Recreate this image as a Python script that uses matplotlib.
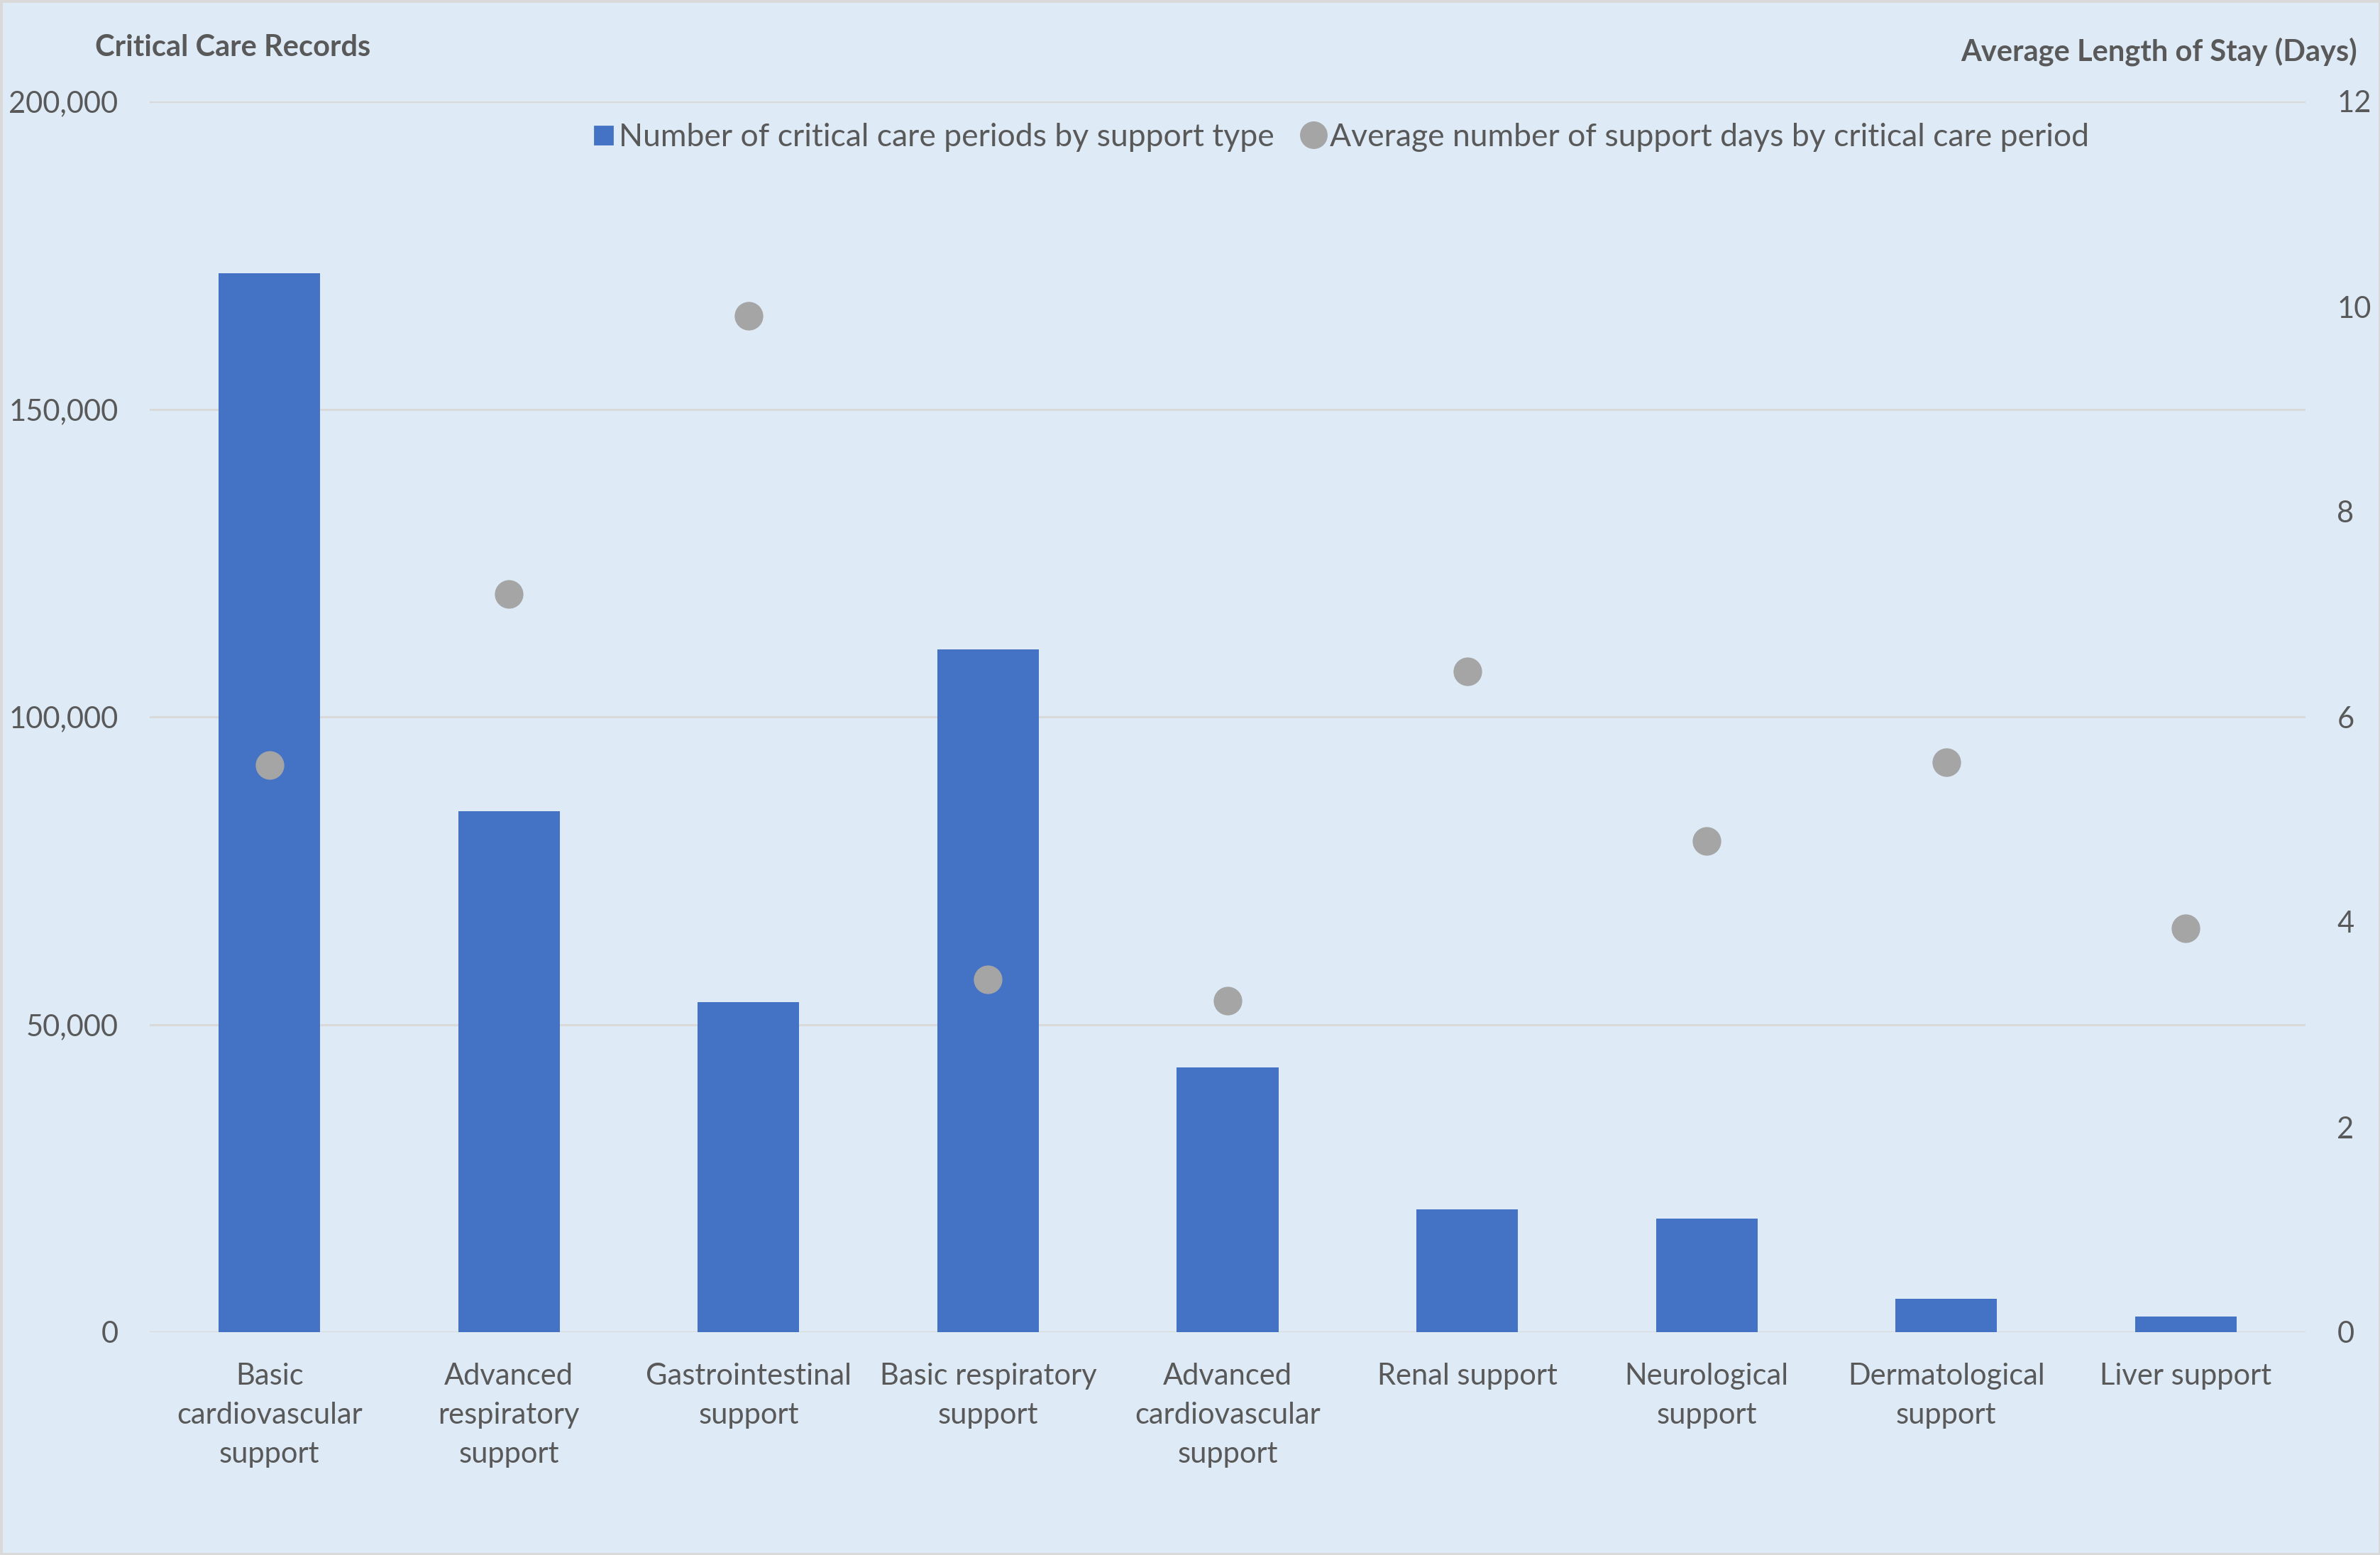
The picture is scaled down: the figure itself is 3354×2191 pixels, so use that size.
import matplotlib
matplotlib.use("Agg")
import matplotlib.pyplot as plt
from matplotlib.lines import Line2D
from matplotlib.patches import Rectangle
from matplotlib.ticker import FuncFormatter, MultipleLocator

# colours
BG = "#DEEBF7"
BAR_COL = "#4472C4"
DOT_COL = "#A5A5A5"
TEXT_COL = "#595959"
GRID_COL = "#D9D9D9"

# data
categories = [
    "Basic\ncardiovascular\nsupport",
    "Advanced\nrespiratory\nsupport",
    "Gastrointestinal\nsupport",
    "Basic respiratory\nsupport",
    "Advanced\ncardiovascular\nsupport",
    "Renal support",
    "Neurological\nsupport",
    "Dermatological\nsupport",
    "Liver support",
]
care_periods = [172100, 84700, 53600, 110900, 43000, 20000, 18500, 5400, 2500]
avg_support_days = [5.53, 7.20, 9.91, 3.44, 3.23, 6.44, 4.79, 5.56, 3.94]

bar_label = "Number of critical care periods by support type"
dot_label = "Average number of support days by critical care period"

plt.rcParams["font.family"] = ["Lato", "DejaVu Sans"]
FS = 15

W, H, DPI = 3355, 2191, 200
fig = plt.figure(figsize=(W / DPI, H / DPI), dpi=DPI, facecolor=BG)
ax = fig.add_axes([211 / W, 1 - 1877 / H, (3249 - 211) / W, (1877 - 143) / H])
ax.set_facecolor(BG)
ax2 = ax.twinx()

x = range(len(categories))
ax.bar(x, care_periods, width=0.424, color=BAR_COL, zorder=3)
ax2.plot(x, avg_support_days, linestyle="none", marker="o", markersize=13.5,
         color=DOT_COL, zorder=4)

# left axis
ax.set_xlim(-0.5, len(categories) - 0.5)
ax.set_ylim(0, 200000)
ax.yaxis.set_major_locator(MultipleLocator(50000))
ax.yaxis.set_major_formatter(FuncFormatter(lambda v, p: f"{int(v):,}"))
ax.grid(axis="y", color=GRID_COL, linewidth=1.1, zorder=0)
ax.set_axisbelow(True)
ax.set_xticks(list(x))
ax.set_xticklabels(categories, linespacing=1.55)
ax.tick_params(axis="both", length=0, labelsize=FS, labelcolor=TEXT_COL)
ax.tick_params(axis="y", pad=16)
ax.tick_params(axis="x", pad=15.5)

# right axis
ax2.set_ylim(0, 12)
ax2.yaxis.set_major_locator(MultipleLocator(2))
ax2.tick_params(axis="y", length=0, labelsize=FS, labelcolor=TEXT_COL, pad=16)

for a in (ax, ax2):
    for side in ("top", "left", "right", "bottom"):
        a.spines[side].set_visible(False)
ax.axhline(0, color=GRID_COL, linewidth=1.1, zorder=2)

# axis titles
fig.text(134 / W, 1 - 67 / H, "Critical Care Records", ha="left", va="center",
         fontsize=FS, fontweight="bold", color=TEXT_COL)
fig.text(3322 / W, 1 - 73 / H, "Average Length of Stay (Days)", ha="right",
         va="center", fontsize=FS, fontweight="bold", color=TEXT_COL)

# legend
handles = [
    Line2D([], [], marker="s", linestyle="none", color=BAR_COL, markersize=9),
    Line2D([], [], marker="o", linestyle="none", color=DOT_COL, markersize=13),
]
fig.legend(handles, [bar_label, dot_label], loc="center",
           bbox_to_anchor=(1889 / W, 1 - 193 / H), ncol=2, frameon=False,
           fontsize=16, labelcolor=TEXT_COL, handlelength=0.7,
           handletextpad=0.15, columnspacing=0.9)

# chart border
fig.patches.append(Rectangle((0, 0), 1, 1, transform=fig.transFigure,
                             fill=False, edgecolor=GRID_COL, linewidth=2.5))

fig.savefig("out.png", dpi=DPI, facecolor=BG)
